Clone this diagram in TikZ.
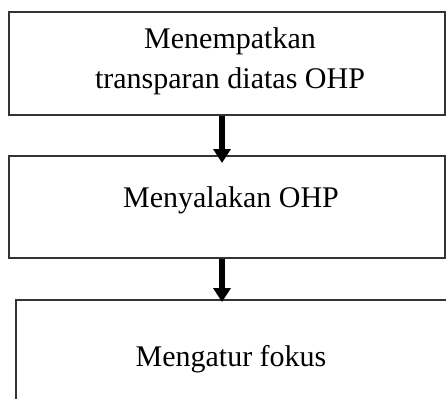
\documentclass[tikz,border=0pt]{standalone}
\usepackage{fontspec}
\setmainfont{Liberation Serif}
\usetikzlibrary{arrows.meta}
\begin{document}
\begin{tikzpicture}[x=1bp,y=1bp,
  box/.style={draw=black!80, line width=2bp, fill=white, inner sep=0pt},
  lbl/.style={font=\fontsize{30bp}{40bp}\selectfont, inner sep=0pt, align=center},
  flow/.style={line width=6bp, -{Triangle[width=17bp,length=14bp]}}]
\useasboundingbox (0,0) rectangle (446,-398);
\clip (0,0) rectangle (446,-398);
\node[box, minimum width=436bp, minimum height=103bp, anchor=north west] (b1) at (8,-11) {};
\node[box, minimum width=436bp, minimum height=102bp, anchor=north west] (b2) at (8,-155) {};
\node[box, minimum width=440bp, minimum height=130bp, anchor=north west] (b3) at (15,-299) {};
\node[lbl, anchor=base] (t1) at (230,-88) {Menempatkan\\transparan diatas OHP};
\node[lbl, anchor=base] (t2) at (231,-207) {Menyalakan OHP};
\node[lbl, anchor=base] (t3) at (231,-366) {Mengatur fokus};
\draw[flow] (b1.south -| 222,0) -- ([yshift=-8bp]b2.north -| 222,0);
\draw[flow] (b2.south -| 222,0) -- ([yshift=-3bp]b3.north -| 222,0);
\end{tikzpicture}
\end{document}
